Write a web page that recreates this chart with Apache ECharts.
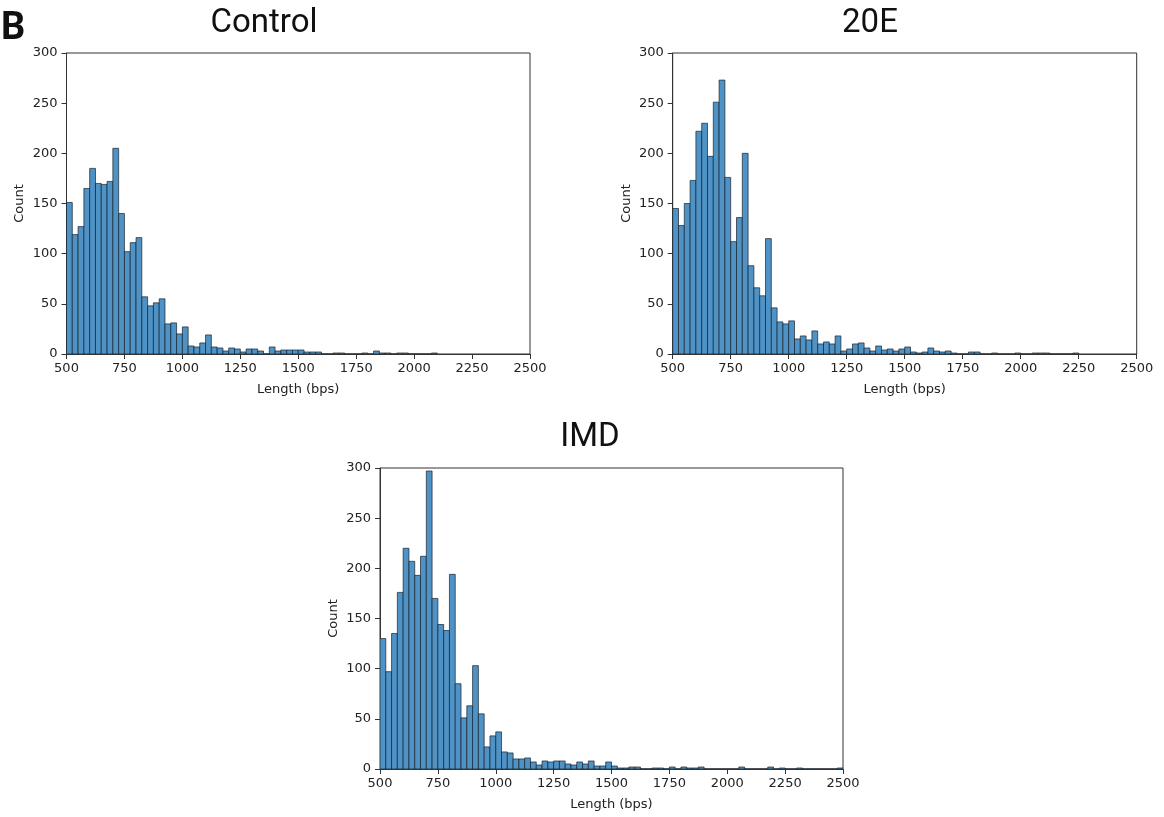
<!DOCTYPE html>
<html><head><meta charset="utf-8">
<script src="https://cdn.jsdelivr.net/npm/echarts@6/dist/echarts.min.js"></script>
<style>html,body{margin:0;padding:0;background:#fff}#c{width:1164px;height:817px}</style>
</head><body><div id="c"></div>
<script>
// ---- data ----
const binStart = 500;
const binWidth = 25;
const xMin = 500, xMax = 2500, xStep = 250;
const yMin = 0, yMax = 300, yStep = 50;
const panelTitles = ['Control', '20E', 'IMD'];
const panelLetter = 'B';
const xAxisName = 'Length (bps)';
const yAxisName = 'Count';

const controlCounts = [151,119,127,165,185,170,169,172,205,140,102,111,116,57,48,51,55,30,31,20,
  27,8,7,11,19,7,6,3,6,5,2,5,5,3,0,7,3,4,4,4,
  4,2,2,2,0,0,1,1,0,0,0,1,0,3,1,1,0,1,1,0,
  0,0,0,1];
const e20Counts = [145,128,150,173,222,230,197,251,273,176,112,136,200,88,66,58,115,46,32,30,
  33,15,18,14,23,10,12,10,18,3,5,10,11,6,3,8,4,5,3,5,
  7,2,1,2,6,3,2,3,1,0,0,2,2,0,0,1,0,0,0,1,
  0,0,1,1,1,0,0,0,0,1];
const imdCounts = [130,97,135,176,220,207,193,212,297,170,144,138,194,85,51,63,103,55,22,33,
  37,17,16,10,10,11,7,4,8,7,8,8,5,4,7,5,8,3,3,7,
  3,1,1,2,2,0,0,1,1,0,2,0,2,1,1,2,0,0,0,0,
  0,0,2,0,0,0,0,2,0,1,0,0,1,0,0,0,0,0,0,1];

// ---- chart ----
const panels = [
  {counts: controlCounts, grid: {left: 66.5, top: 53, width: 463.5, height: 301}, tx: 264, ty: 24},
  {counts: e20Counts,     grid: {left: 672.7, top: 53, width: 464, height: 301}, tx: 870, ty: 24},
  {counts: imdCounts,     grid: {left: 380, top: 468, width: 463, height: 301}, tx: 590, ty: 438}
];

const fillColor = '#4f93c6';
const edgeColor = 'rgba(20,30,40,0.85)';
const axisColor = '#333';
const font = 'DejaVu Sans';

function toBins(counts) {
  return counts.map((c, k) => [binStart + k * binWidth, binStart + (k + 1) * binWidth, c]);
}

function renderItem(params, api) {
  const x0 = api.value(0), x1 = api.value(1), c = api.value(2);
  const p0 = api.coord([x0, c]);
  const p1 = api.coord([x1, 0]);
  return {
    type: 'rect',
    shape: {x: p0[0], y: p0[1], width: p1[0] - p0[0], height: p1[1] - p0[1]},
    style: {fill: fillColor, stroke: edgeColor, lineWidth: 0.8}
  };
}

const grids = [], xAxes = [], yAxes = [], series = [], graphics = [];
panels.forEach((p, i) => {
  grids.push(Object.assign({show: true, borderColor: axisColor, borderWidth: 1, backgroundColor: '#fff'}, p.grid));
  xAxes.push({
    type: 'value', gridIndex: i, min: xMin, max: xMax, interval: xStep,
    name: xAxisName, nameLocation: 'middle', nameGap: 29,
    nameTextStyle: {fontFamily: font, fontSize: 13, color: '#222'},
    axisLine: {show: true, onZero: false, lineStyle: {color: axisColor, width: 1}},
    axisTick: {show: true, length: 5, lineStyle: {color: axisColor}},
    axisLabel: {fontFamily: font, fontSize: 13, color: '#222', margin: 8, formatter: v => String(v)},
    splitLine: {show: false}
  });
  yAxes.push({
    type: 'value', gridIndex: i, min: yMin, max: yMax, interval: yStep,
    name: yAxisName, nameLocation: 'middle', nameGap: 40, nameRotate: 90,
    nameTextStyle: {fontFamily: font, fontSize: 13, color: '#222'},
    axisLine: {show: true, lineStyle: {color: axisColor, width: 1}},
    axisTick: {show: true, length: 5, lineStyle: {color: axisColor}},
    axisLabel: {fontFamily: font, fontSize: 13, color: '#222', margin: 9, formatter: v => String(v)},
    splitLine: {show: false}
  });
  series.push({
    type: 'custom', xAxisIndex: i, yAxisIndex: i,
    renderItem: renderItem, data: toBins(p.counts), clip: true,
    encode: {x: [0, 1], y: 2}, silent: true
  });
  graphics.push({
    type: 'text', x: p.tx, y: p.ty,
    style: {text: panelTitles[i], font: '33px Roboto', fill: '#111', textAlign: 'center', textVerticalAlign: 'middle'}
  });
});
graphics.push({
  type: 'text', x: 1, y: 29,
  style: {text: panelLetter, font: 'bold 38px Roboto', fill: '#111', textAlign: 'left', textVerticalAlign: 'middle'}
});

const chart = echarts.init(document.getElementById('c'), null, {renderer: 'canvas'});
chart.setOption({
  animation: false,
  backgroundColor: '#fff',
  grid: grids, xAxis: xAxes, yAxis: yAxes, series: series,
  graphic: graphics
});
</script>
</body></html>
